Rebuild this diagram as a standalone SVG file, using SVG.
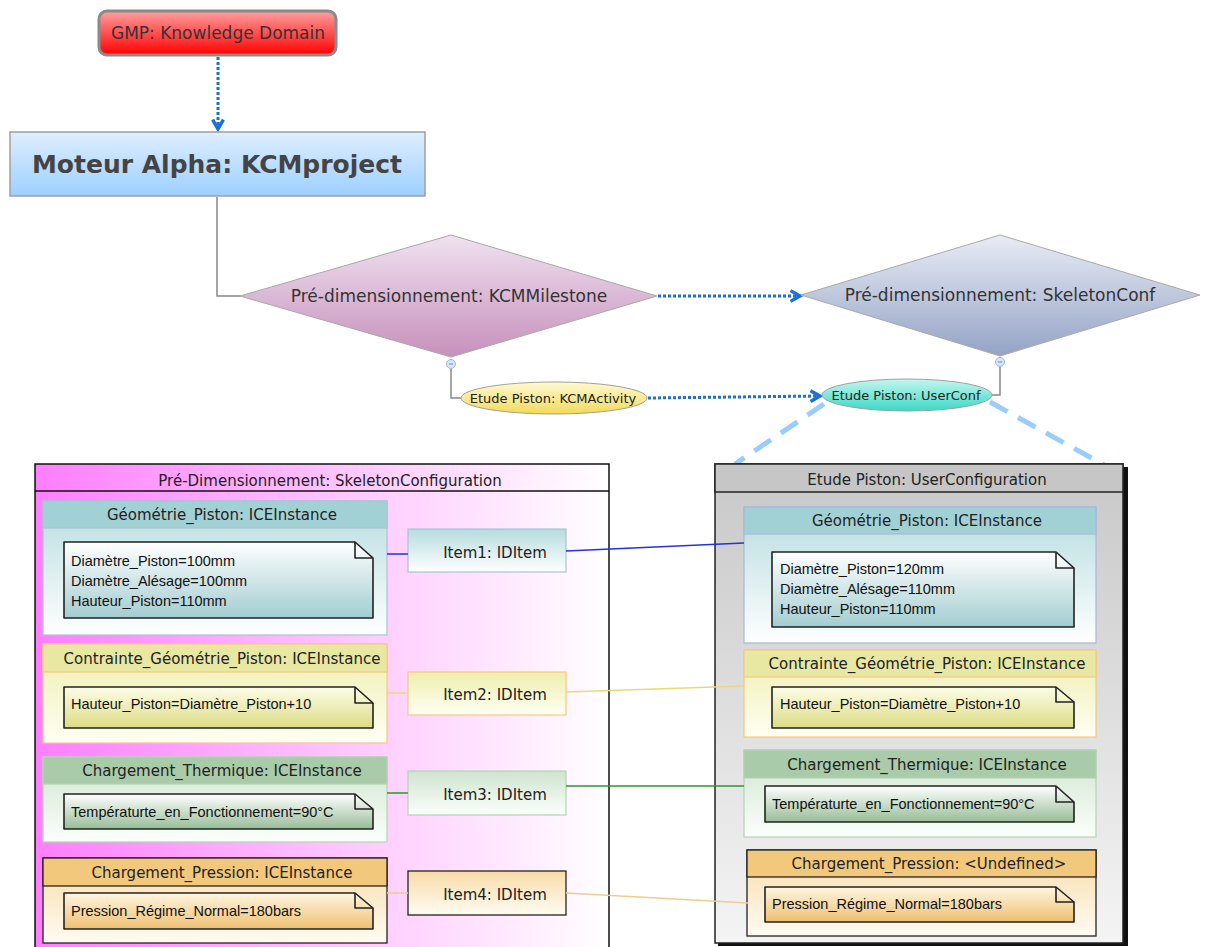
<svg xmlns="http://www.w3.org/2000/svg" width="1206" height="947" viewBox="0 0 1206 947">
<defs>
<linearGradient id="gRed" x1="0" y1="0" x2="0" y2="1"><stop offset="0" stop-color="#ffa0a0"/><stop offset="1" stop-color="#ff0000"/></linearGradient>
<linearGradient id="gBlue" x1="0" y1="0" x2="0" y2="1"><stop offset="0" stop-color="#deeeff"/><stop offset="1" stop-color="#9dd0ff"/></linearGradient>
<linearGradient id="gPink" x1="0" y1="0" x2="0" y2="1"><stop offset="0" stop-color="#f0e2f0"/><stop offset="1" stop-color="#c690bb"/></linearGradient>
<linearGradient id="gSlate" x1="0" y1="0" x2="0" y2="1"><stop offset="0" stop-color="#e8ecf5"/><stop offset="1" stop-color="#94a3c5"/></linearGradient>
<linearGradient id="gYel" x1="0" y1="0" x2="0" y2="1"><stop offset="0" stop-color="#fffad0"/><stop offset="1" stop-color="#f2da5a"/></linearGradient>
<linearGradient id="gTeal" x1="0" y1="0" x2="0" y2="1"><stop offset="0" stop-color="#c4f7ef"/><stop offset="1" stop-color="#3cd8c5"/></linearGradient>
<linearGradient id="gMag" x1="0" y1="0" x2="1" y2="0"><stop offset="0" stop-color="#ff7eff"/><stop offset="0.55" stop-color="#ffc8ff"/><stop offset="1" stop-color="#ffffff"/></linearGradient>
<linearGradient id="gGrey" x1="0" y1="0" x2="0" y2="1"><stop offset="0" stop-color="#c8c8c8"/><stop offset="1" stop-color="#f4f4f4"/></linearGradient>
<linearGradient id="bTeal" x1="0" y1="0" x2="0" y2="1"><stop offset="0" stop-color="#b6dcdf"/><stop offset="1" stop-color="#ffffff"/></linearGradient>
<linearGradient id="nTeal" x1="0" y1="0" x2="0" y2="1"><stop offset="0" stop-color="#ffffff"/><stop offset="1" stop-color="#a3cdd1"/></linearGradient>
<linearGradient id="bYel" x1="0" y1="0" x2="0" y2="1"><stop offset="0" stop-color="#eeeeae"/><stop offset="1" stop-color="#fffff4"/></linearGradient>
<linearGradient id="nYel" x1="0" y1="0" x2="0" y2="1"><stop offset="0" stop-color="#fdfde8"/><stop offset="1" stop-color="#dcdc84"/></linearGradient>
<linearGradient id="bGrn" x1="0" y1="0" x2="0" y2="1"><stop offset="0" stop-color="#cfe4cf"/><stop offset="1" stop-color="#fbfffb"/></linearGradient>
<linearGradient id="nGrn" x1="0" y1="0" x2="0" y2="1"><stop offset="0" stop-color="#ffffff"/><stop offset="1" stop-color="#97bd97"/></linearGradient>
<linearGradient id="bOra" x1="0" y1="0" x2="0" y2="1"><stop offset="0" stop-color="#f8dca8"/><stop offset="1" stop-color="#fffbf2"/></linearGradient>
<linearGradient id="nOra" x1="0" y1="0" x2="0" y2="1"><stop offset="0" stop-color="#fff6e2"/><stop offset="1" stop-color="#eec070"/></linearGradient>
<marker id="arr" viewBox="0 0 10 10" refX="8" refY="5" markerWidth="4.5" markerHeight="4.5" orient="auto"><path d="M1,1 L8,5 L1,9" fill="none" stroke="#1a6fd8" stroke-width="2.5"/></marker>
</defs>
<style>
.t{font-family:"DejaVu Sans",sans-serif;fill:#222;text-anchor:middle}
.h{font-size:15px}
.n{font-family:"Liberation Sans",Arial,sans-serif;font-size:14.5px;fill:#111}
.dot{fill:none;stroke:#1a6fd8;stroke-width:3;stroke-dasharray:3 2}
.gl{fill:none;stroke:#888;stroke-width:1.5}
.note{stroke:#222;stroke-width:1.6;stroke-linejoin:round}
.fold{fill:none;stroke:#222;stroke-width:1.6;stroke-linejoin:round}
</style>
<rect width="1206" height="947" fill="#ffffff"/>

<g id="connectors">
<path class="dot" d="M218,57 V129" marker-end="url(#arr)"/>
<path class="gl" d="M217,197 V296 H241"/>
<path class="dot" d="M658,296 H800" marker-end="url(#arr)"/>
<path class="gl" d="M451,368 V398 H461"/>
<path class="gl" d="M1000,366 V395 H992"/>
<path class="dot" d="M648,398 L820,396" marker-end="url(#arr)"/>
<path d="M824,404 L735,464" fill="none" stroke="#99ccff" stroke-width="5" stroke-dasharray="20 12"/>
<path d="M990,402 L1106,466" fill="none" stroke="#99ccff" stroke-width="5" stroke-dasharray="20 12"/>
</g>

<g id="gmp">
<rect x="99" y="11" width="237" height="44" rx="8" fill="url(#gRed)" stroke="#8a8a8a" stroke-width="3"/>
<text class="t" x="218" y="39" font-size="17" style="fill:#333">GMP: Knowledge Domain</text>
</g>

<g id="moteur">
<rect x="10" y="132" width="415" height="64" fill="url(#gBlue)" stroke="#a0a0a0" stroke-width="1.5"/>
<text class="t" x="217" y="173" font-size="25" font-weight="bold" style="fill:#444">Moteur Alpha: KCMproject</text>
</g>

<g id="milestone">
<polygon points="240,296 451,235 657,296 451,357" fill="url(#gPink)" stroke="#a8a8a8" stroke-width="1"/>
<text class="t" x="449" y="302" font-size="17" style="fill:#333">Pré-dimensionnement: KCMMilestone</text>
<circle cx="451" cy="364" r="4.5" fill="#d8e6fa" stroke="#9ab6e0"/>
<path d="M449,364 H453" stroke="#6a8ac0" stroke-width="1"/>
</g>

<g id="skeletonconf">
<polygon points="801,295 1000,235 1200,295 1000,356" fill="url(#gSlate)" stroke="#a8a8a8" stroke-width="1"/>
<text class="t" x="1000" y="301" font-size="17" style="fill:#333">Pré-dimensionnement: SkeletonConf</text>
<circle cx="1000" cy="362" r="4.5" fill="#d8e6fa" stroke="#9ab6e0"/>
<path d="M998,362 H1002" stroke="#6a8ac0" stroke-width="1"/>
</g>

<g id="activity">
<ellipse cx="554" cy="398" rx="93" ry="16" fill="url(#gYel)" stroke="#a0a0a0"/>
<text class="t" x="553" y="402.5" font-size="13">Etude Piston: KCMActivity</text>
</g>

<g id="userconf">
<ellipse cx="907" cy="395" rx="85" ry="16" fill="url(#gTeal)" stroke="#a0a0a0"/>
<text class="t" x="906" y="400" font-size="13">Etude Piston: UserConf</text>
</g>

<g id="skeleton-configuration">
<rect x="35" y="464" width="574" height="490" fill="url(#gMag)" stroke="#111" stroke-width="1.5"/>
<path d="M35,491 H609" stroke="#111" stroke-width="1.5"/>
<text class="t h" x="330" y="486">Pré-Dimensionnement: SkeletonConfiguration</text>
</g>

<g id="left-geometrie">
<rect x="43" y="501" width="344" height="134" fill="url(#bTeal)" stroke="#a8c4d4" stroke-width="1.2"/>
<rect x="43" y="501" width="344" height="27" fill="#a2d1d5" stroke="#a8c4d4" stroke-width="1.2"/>
<text class="t h" x="222" y="520">Géométrie_Piston: ICEInstance</text>
<path class="note" fill="url(#nTeal)" d="M64,542 H355 L373,558 V618 H64 Z"/>
<path class="fold" d="M355,542 V558 H373"/>
<text class="n" x="71" y="566">Diamètre_Piston=100mm</text>
<text class="n" x="71" y="586">Diamètre_Alésage=100mm</text>
<text class="n" x="71" y="606">Hauteur_Piston=110mm</text>
</g>

<g id="left-contrainte">
<rect x="43" y="644" width="344" height="99" fill="url(#bYel)" stroke="#f5c980" stroke-width="1.2"/>
<rect x="43" y="644" width="344" height="28" fill="#e8e8a2" stroke="#f5c980" stroke-width="1.2"/>
<text class="t h" x="222" y="664">Contrainte_Géométrie_Piston: ICEInstance</text>
<path class="note" fill="url(#nYel)" d="M64,687 H355 L373,703 V728 H64 Z"/>
<path class="fold" d="M355,687 V703 H373"/>
<text class="n" x="71" y="709">Hauteur_Piston=Diamètre_Piston+10</text>
</g>

<g id="left-thermique">
<rect x="43" y="757" width="344" height="85" fill="url(#bGrn)" stroke="#b3d4b3" stroke-width="1.2"/>
<rect x="43" y="757" width="344" height="27" fill="#a9cba9" stroke="#b3d4b3" stroke-width="1.2"/>
<text class="t h" x="222" y="776">Chargement_Thermique: ICEInstance</text>
<path class="note" fill="url(#nGrn)" d="M64,794 H355 L373,809 V829 H64 Z"/>
<path class="fold" d="M355,794 V809 H373"/>
<text class="n" x="71" y="817">Températurte_en_Fonctionnement=90°C</text>
</g>

<g id="left-pression">
<rect x="43" y="858" width="344" height="85" fill="url(#bOra)" stroke="#222" stroke-width="1.3"/>
<rect x="43" y="858" width="344" height="28" fill="#f2c97c" stroke="#222" stroke-width="1.3"/>
<text class="t h" x="222" y="878">Chargement_Pression: ICEInstance</text>
<path class="note" fill="url(#nOra)" d="M64,893 H355 L373,908 V929 H64 Z"/>
<path class="fold" d="M355,893 V908 H373"/>
<text class="n" x="71" y="916">Pression_Régime_Normal=180bars</text>
</g>

<g id="item1">
<rect x="408" y="529" width="158" height="43" fill="url(#bTeal)" stroke="#a8c4d4" stroke-width="1.2"/>
<text class="t h" x="495" y="558">Item1: IDItem</text>
</g>
<g id="item2">
<rect x="408" y="672" width="158" height="43" fill="url(#bYel)" stroke="#f5c980" stroke-width="1.2"/>
<text class="t h" x="495" y="700">Item2: IDItem</text>
</g>
<g id="item3">
<rect x="408" y="771" width="158" height="44" fill="url(#bGrn)" stroke="#b3d4b3" stroke-width="1.2"/>
<text class="t h" x="495" y="800">Item3: IDItem</text>
</g>
<g id="item4">
<rect x="408" y="871" width="158" height="44" fill="url(#bOra)" stroke="#222" stroke-width="1.3"/>
<text class="t h" x="495" y="900">Item4: IDItem</text>
</g>

<g id="user-configuration">
<rect x="718" y="467" width="410" height="479" fill="#111"/>
<rect x="715" y="464" width="408" height="479" fill="url(#gGrey)" stroke="#222" stroke-width="1.5"/>
<rect x="715" y="464" width="408" height="28" fill="#c6c6c6" stroke="#222" stroke-width="1.5"/>
<text class="t h" x="927" y="485">Etude Piston: UserConfiguration</text>
</g>

<g id="right-geometrie">
<rect x="744" y="507" width="352" height="136" fill="url(#bTeal)" stroke="#a8b8d8" stroke-width="1.2"/>
<rect x="744" y="507" width="352" height="27" fill="#a2d1d5" stroke="#a8b8d8" stroke-width="1.2"/>
<text class="t h" x="927" y="526">Géométrie_Piston: ICEInstance</text>
<path class="note" fill="url(#nTeal)" d="M772,552 H1056 L1074,568 V627 H772 Z"/>
<path class="fold" d="M1056,552 V568 H1074"/>
<text class="n" x="780" y="574">Diamètre_Piston=120mm</text>
<text class="n" x="780" y="594">Diamètre_Alésage=110mm</text>
<text class="n" x="780" y="614">Hauteur_Piston=110mm</text>
</g>

<g id="right-contrainte">
<rect x="744" y="650" width="352" height="87" fill="url(#bYel)" stroke="#f5c980" stroke-width="1.2"/>
<rect x="744" y="650" width="352" height="27" fill="#e8e8a2" stroke="#f5c980" stroke-width="1.2"/>
<text class="t h" x="927" y="669">Contrainte_Géométrie_Piston: ICEInstance</text>
<path class="note" fill="url(#nYel)" d="M772,687 H1056 L1074,702 V728 H772 Z"/>
<path class="fold" d="M1056,687 V702 H1074"/>
<text class="n" x="780" y="709">Hauteur_Piston=Diamètre_Piston+10</text>
</g>

<g id="right-thermique">
<rect x="744" y="750" width="352" height="87" fill="url(#bGrn)" stroke="#b3d4b3" stroke-width="1.2"/>
<rect x="744" y="750" width="352" height="28" fill="#a9cba9" stroke="#b3d4b3" stroke-width="1.2"/>
<text class="t h" x="927" y="770">Chargement_Thermique: ICEInstance</text>
<path class="note" fill="url(#nGrn)" d="M765,786 H1056 L1074,802 V822 H765 Z"/>
<path class="fold" d="M1056,786 V802 H1074"/>
<text class="n" x="772" y="809">Températurte_en_Fonctionnement=90°C</text>
</g>

<g id="right-pression">
<rect x="747" y="850" width="349" height="86" fill="url(#bOra)" stroke="#222" stroke-width="1.3"/>
<rect x="747" y="850" width="349" height="27" fill="#f2c97c" stroke="#222" stroke-width="1.3"/>
<text class="t h" x="929" y="869">Chargement_Pression: &lt;Undefined&gt;</text>
<path class="note" fill="url(#nOra)" d="M765,887 H1056 L1074,902 V922 H765 Z"/>
<path class="fold" d="M1056,887 V902 H1074"/>
<text class="n" x="772" y="909">Pression_Régime_Normal=180bars</text>
</g>

<g id="item-links">
<path d="M387,554 H408 M566,551 L744,543" stroke="#2233dd" stroke-width="1.5" fill="none"/>
<path d="M387,693 H408 M566,692 L744,686" stroke="#eed77a" stroke-width="1.5" fill="none"/>
<path d="M387,793 H408 M566,786 H744" stroke="#2a9a2a" stroke-width="1.5" fill="none"/>
<path d="M387,893 H408 M566,893 L748,903" stroke="#f0cc90" stroke-width="1.5" fill="none"/>
</g>
</svg>
